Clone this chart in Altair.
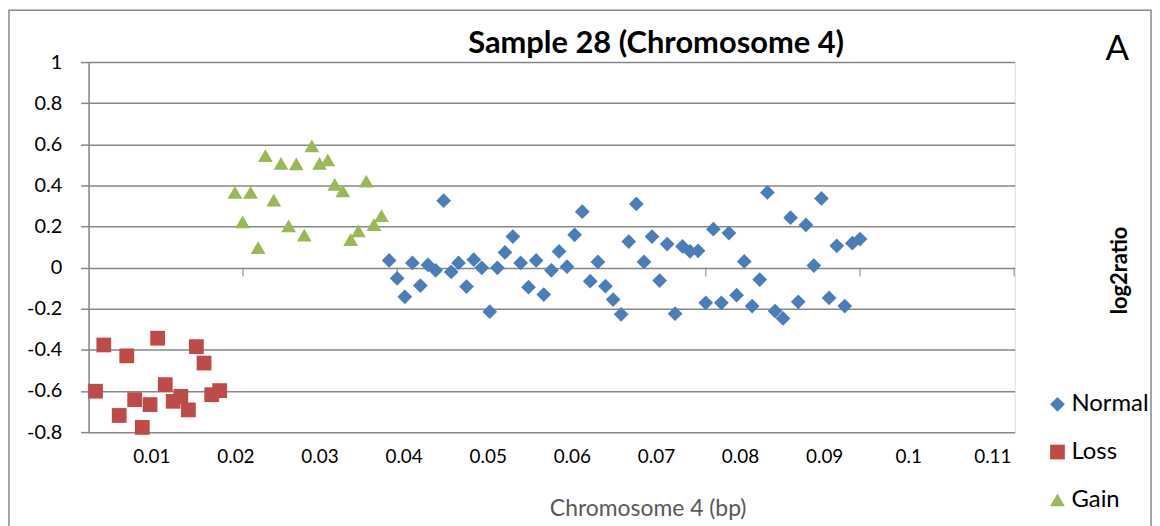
import altair as alt
import pandas as pd

# ---- data ----
series_names = ["Normal", "Loss", "Gain"]
series_colors = ["#4a7ebb", "#be4b48", "#98b954"]
series_shapes = ["diamond", "square", "triangle-up"]
series_sizes = [220, 220, 270]

loss_x = [0.00337, 0.00435, 0.00618, 0.00708, 0.00802, 0.00893, 0.00985, 0.01075,
          0.01166, 0.01260, 0.01351, 0.01441, 0.01536, 0.01627, 0.01718, 0.01813]
loss_y = [-0.601, -0.376, -0.719, -0.429, -0.642, -0.777, -0.666, -0.343,
          -0.569, -0.650, -0.626, -0.692, -0.384, -0.464, -0.618, -0.598]

gain_x = [0.01994, 0.02085, 0.02180, 0.02270, 0.02357, 0.02456, 0.02542, 0.02633,
          0.02724, 0.02819, 0.02909, 0.03000, 0.03098, 0.03181, 0.03276, 0.03370,
          0.03462, 0.03556, 0.03647, 0.03737]
gain_y = [0.366, 0.223, 0.366, 0.098, 0.545, 0.329, 0.507, 0.203,
          0.505, 0.158, 0.592, 0.507, 0.524, 0.405, 0.373, 0.137,
          0.179, 0.421, 0.209, 0.253]

normal_x = [0.03828, 0.03923, 0.04014, 0.04104, 0.04199, 0.04290, 0.04381, 0.04476,
            0.04566, 0.04653, 0.04748, 0.04834, 0.04929, 0.05024, 0.05115, 0.05205,
            0.05299, 0.05391, 0.05485, 0.05576, 0.05666, 0.05757, 0.05848, 0.05943,
            0.06033, 0.06124, 0.06219, 0.06310, 0.06400, 0.06491, 0.06586, 0.06677,
            0.06767, 0.06858, 0.06953, 0.07044, 0.07134, 0.07228, 0.07316, 0.07406,
            0.07501, 0.07592, 0.07683, 0.07778, 0.07868, 0.07959, 0.08050, 0.08144,
            0.08234, 0.08325, 0.08416, 0.08511, 0.08601, 0.08692, 0.08783, 0.08878,
            0.08968, 0.09059, 0.09150, 0.09245, 0.09335, 0.09426]
normal_y = [0.035, -0.052, -0.142, 0.023, -0.087, 0.013, -0.013, 0.326,
            -0.021, 0.023, -0.092, 0.039, -0.001, -0.214, -0.001, 0.074,
            0.151, 0.023, -0.095, 0.035, -0.131, -0.013, 0.079, 0.005,
            0.160, 0.272, -0.066, 0.028, -0.090, -0.155, -0.227, 0.127,
            0.310, 0.028, 0.151, -0.063, 0.115, -0.224, 0.103, 0.079,
            0.082, -0.171, 0.187, -0.171, 0.168, -0.134, 0.030, -0.187,
            -0.058, 0.366, -0.211, -0.247, 0.243, -0.166, 0.208, 0.010,
            0.337, -0.147, 0.106, -0.187, 0.119, 0.139]

x_tick_labels = [0.01, 0.02, 0.03, 0.04, 0.05, 0.06, 0.07, 0.08, 0.09, 0.10, 0.11]
y_tick_labels = [-0.8, -0.6, -0.4, -0.2, 0.0, 0.2, 0.4, 0.6, 0.8, 1.0]
x_domain = [0.00254, 0.11266]
y_domain = [-0.8, 1.0]
zero_line_ticks = [0.02089, 0.03923, 0.05757, 0.07592, 0.09426, 0.11260]
corner_label = ["A"]

title_text = "Sample 28 (Chromosome 4)"
x_title = "Chromosome 4 (bp)"
y_title = "log2ratio"

# ---- tables ----
points = pd.concat([
    pd.DataFrame({"x": normal_x, "y": normal_y, "series": "Normal"}),
    pd.DataFrame({"x": loss_x, "y": loss_y, "series": "Loss"}),
    pd.DataFrame({"x": gain_x, "y": gain_y, "series": "Gain"}),
], ignore_index=True)
ticks_df = pd.DataFrame({"x": zero_line_ticks, "y": [0.0] * len(zero_line_ticks)})
label_df = pd.DataFrame({"label": corner_label})
frame_df = pd.DataFrame({"k": [0]})

GRAY = "#878787"
FONT = "Lato"

x_scale = alt.Scale(domain=x_domain, nice=False, zero=False)
y_scale = alt.Scale(domain=y_domain, nice=False, zero=False)

x_axis = alt.Axis(
    values=x_tick_labels,
    labelExpr="toString(round(datum.value*100)/100)",
    grid=False, domain=False, ticks=False, tickSize=0,
    labelPadding=25, labelBaseline="middle", labelFlush=False, labelOverlap=False,
    labelFont=FONT, labelFontSize=19, labelColor="black",
    title=x_title, titleX=562, titleY=77, titleAlign="center", titleBaseline="middle",
    titleFont=FONT, titleFontSize=23, titleFontWeight="normal", titleColor="#595959",
)
y_axis = alt.Axis(
    values=y_tick_labels,
    labelExpr="toString(round(datum.value*10)/10)",
    grid=True, gridColor=GRAY, gridWidth=1.5,
    domainColor=GRAY, domainWidth=1.5,
    tickColor=GRAY, tickWidth=1.5, tickSize=8,
    labelPadding=19, labelFont=FONT, labelFontSize=20, labelColor="black",
    labelFlush=False, labelOverlap=False,
    title=y_title, titleX=1036, titleY=209, titleAngle=270,
    titleAlign="center", titleBaseline="middle",
    titleFont=FONT, titleFontSize=22, titleFontWeight="bold", titleColor="black",
)

legend = alt.Legend(
    title=None, orient="none", legendX=962, legendY=332,
    labelFont=FONT, labelFontSize=24, labelColor="black",
    symbolSize=190, symbolStrokeWidth=0, labelOffset=2,
    rowPadding=24, padding=0,
)

frame = alt.Chart(frame_df).mark_rect(
    fill=None, stroke=GRAY, strokeWidth=1.5
).encode(
    x=alt.value(-80), x2=alt.value(1068), y=alt.value(-52), y2=alt.value(470)
)

pts = alt.Chart(points).mark_point(filled=True, opacity=1, strokeWidth=0).encode(
    x=alt.X("x:Q", scale=x_scale, axis=x_axis),
    y=alt.Y("y:Q", scale=y_scale, axis=y_axis),
    color=alt.Color("series:N", scale=alt.Scale(domain=series_names, range=series_colors),
                    legend=legend),
    shape=alt.Shape("series:N", scale=alt.Scale(domain=series_names, range=series_shapes),
                    legend=legend),
    size=alt.Size("series:N", scale=alt.Scale(domain=series_names, range=series_sizes),
                  legend=None),
)

zero_ticks = alt.Chart(ticks_df).mark_tick(
    orient="vertical", size=9, thickness=1.5, color=GRAY, yOffset=4.5
).encode(
    x=alt.X("x:Q", scale=x_scale),
    y=alt.Y("y:Q", scale=y_scale),
)

corner = alt.Chart(label_df).mark_text(
    font=FONT, fontSize=35, color="black", align="center", baseline="middle"
).encode(
    x=alt.value(1034), y=alt.value(-13), text="label:N"
)

chart = alt.layer(frame, zero_ticks, pts, corner).properties(
    width=931, height=372,
    padding={"left": 81, "top": 53, "right": 138, "bottom": 93},
    autosize=alt.AutoSizeParams(type="none"),
    title=alt.TitleParams(
        title_text, font=FONT, fontSize=31, fontWeight="bold", color="black",
        anchor="middle", dx=105, dy=75, frame="group", baseline="alphabetic", offset=0,
    ),
).configure_view(stroke=None).configure(background="white")

chart.save("out.html", embed_options={"renderer": "svg", "actions": False})
